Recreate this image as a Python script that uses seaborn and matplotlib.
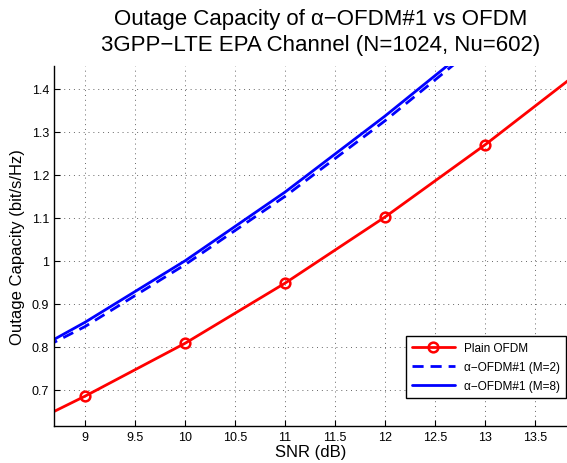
import numpy as np
import pandas as pd
import matplotlib
matplotlib.use('Agg')
import matplotlib.pyplot as plt
import seaborn as sns

# values
snr_plain = [8, 9, 10, 11, 12, 13, 14]
cap_plain = [0.57, 0.685, 0.808, 0.948, 1.102, 1.27, 1.45]

snr_alpha = [8, 9, 10, 11, 12, 13]
cap_m2 = [0.728, 0.847, 0.991, 1.150, 1.326, 1.516]
cap_m8 = [0.728, 0.857, 1.000, 1.160, 1.337, 1.525]

xticks = [9, 9.5, 10, 10.5, 11, 11.5, 12, 12.5, 13, 13.5]
yticks = [0.7, 0.8, 0.9, 1.0, 1.1, 1.2, 1.3, 1.4]

sns.set_style('ticks')
plt.rcParams['font.family'] = ['Liberation Sans', 'DejaVu Sans']
plt.rcParams['text.color'] = 'black'
plt.rcParams['axes.labelcolor'] = 'black'

fig = plt.figure(figsize=(5.67, 4.64), dpi=100)
ax = fig.add_axes([54 / 567, 37 / 464, 1 - 54 / 567, (427 - 67) / 464])

df_plain = pd.DataFrame({'snr': snr_plain, 'cap': cap_plain})
df_m2 = pd.DataFrame({'snr': snr_alpha, 'cap': cap_m2})
df_m8 = pd.DataFrame({'snr': snr_alpha, 'cap': cap_m8})

sns.lineplot(data=df_plain, x='snr', y='cap', ax=ax, color='#ff0000', lw=2,
             marker='o', markersize=7, markerfacecolor='none',
             markeredgecolor='#ff0000', markeredgewidth=1.8, label='Plain OFDM')
sns.lineplot(data=df_m2, x='snr', y='cap', ax=ax, color='#0000ff', lw=2,
             linestyle=(0, (4, 2.5)), label='α−OFDM#1 (M=2)')
sns.lineplot(data=df_m8, x='snr', y='cap', ax=ax, color='#0000ff', lw=2,
             label='α−OFDM#1 (M=8)')

ax.set_xlim(8.69, 13.82)
ax.set_ylim(0.6156, 1.4535)
ax.set_xticks(xticks)
ax.set_xticklabels(['9', '9.5', '10', '10.5', '11', '11.5', '12', '12.5', '13', '13.5'])
ax.set_yticks(yticks)
ax.set_yticklabels(['0.7', '0.8', '0.9', '1', '1.1', '1.2', '1.3', '1.4'])
ax.tick_params(direction='in', length=4, labelsize=9, width=0.8, colors='black')
ax.grid(True, linestyle=(0, (1, 4)), color='#666666', lw=0.7)

for s in ['top', 'right']:
    ax.spines[s].set_visible(False)
for s in ['left', 'bottom']:
    ax.spines[s].set_linewidth(1.0)
    ax.spines[s].set_color('black')

ax.set_xlabel('SNR (dB)', fontsize=12, labelpad=1)
ax.set_ylabel('Outage Capacity (bit/s/Hz)', fontsize=12, labelpad=5)
fig.text(0.566, 0.959, 'Outage Capacity of α−OFDM#1 vs OFDM', ha='center', va='center', fontsize=16)
fig.text(0.566, 0.903, '3GPP−LTE EPA Channel (N=1024, Nu=602)', ha='center', va='center', fontsize=16)

leg = ax.legend(loc='lower right', bbox_to_anchor=(0.998, 0.078), borderaxespad=0,
                fontsize=8.5, frameon=True, fancybox=False, edgecolor='black',
                framealpha=1, handlelength=3.6, borderpad=0.5, labelspacing=0.6)
leg.get_frame().set_linewidth(1.0)

fig.savefig('out.png', dpi=100)
